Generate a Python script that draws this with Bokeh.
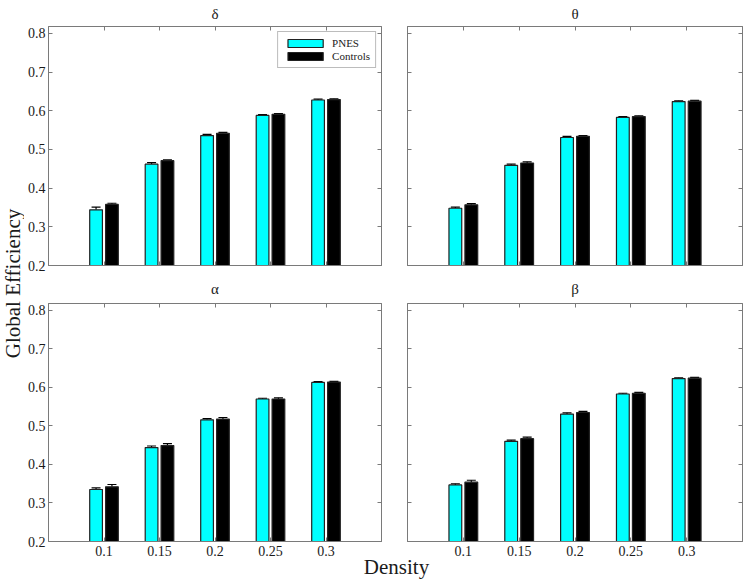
import numpy as np
from math import pi
from bokeh.plotting import figure
from bokeh.models import (Range1d, FixedTicker, LinearAxis, Label, Whisker,
                          ColumnDataSource, TeeHead, Legend, LegendItem)
from bokeh.layouts import row, column
from bokeh.embed import file_html
from bokeh.resources import INLINE

# ---------------- data ----------------
densities = ["0.1", "0.15", "0.2", "0.25", "0.3"]
groups = ["PNES", "Controls"]
bands = ["δ", "θ", "α", "β"]

pnes_delta = [0.344, 0.462, 0.536, 0.588, 0.628]
ctrl_delta = [0.358, 0.471, 0.542, 0.591, 0.629]
pnes_delta_err = [0.007, 0.004, 0.003, 0.002, 0.002]
ctrl_delta_err = [0.003, 0.002, 0.002, 0.002, 0.002]

pnes_theta = [0.348, 0.459, 0.531, 0.583, 0.624]
ctrl_theta = [0.357, 0.465, 0.534, 0.585, 0.625]
pnes_theta_err = [0.003, 0.003, 0.003, 0.002, 0.002]
ctrl_theta_err = [0.003, 0.003, 0.002, 0.002, 0.002]

pnes_alpha = [0.335, 0.444, 0.516, 0.570, 0.613]
ctrl_alpha = [0.342, 0.449, 0.518, 0.570, 0.614]
pnes_alpha_err = [0.004, 0.004, 0.003, 0.002, 0.002]
ctrl_alpha_err = [0.006, 0.005, 0.004, 0.003, 0.002]

pnes_beta = [0.347, 0.460, 0.531, 0.583, 0.623]
ctrl_beta = [0.354, 0.467, 0.535, 0.585, 0.624]
pnes_beta_err = [0.003, 0.003, 0.003, 0.002, 0.002]
ctrl_beta_err = [0.005, 0.004, 0.003, 0.002, 0.002]

y_ticks = [0.2, 0.3, 0.4, 0.5, 0.6, 0.7, 0.8]
Y_MIN, Y_MAX = 0.2, 0.818
X_MIN, X_MAX = 0, 6

# ---------------- style ----------------
FONT = "Liberation Serif"
GRAY = "#7a7a7a"
TXT = "#1a1a1a"
CYAN = "#00FFFF"
BAR_W = 0.229
OFF = 0.143


def add_axis(p, side, ticks, show_labels, standoff=2, overrides=None):
    ax = LinearAxis(ticker=FixedTicker(ticks=ticks))
    ax.major_tick_in = 4
    ax.major_tick_out = 0
    ax.minor_tick_line_color = None
    ax.axis_line_color = GRAY
    ax.major_tick_line_color = GRAY
    if show_labels:
        ax.major_label_text_font = FONT
        ax.major_label_text_font_size = "14px"
        ax.major_label_text_color = TXT
        ax.major_label_standoff = standoff
        if overrides:
            ax.major_label_overrides = overrides
    else:
        ax.major_label_text_color = None
        ax.major_label_text_font_size = "0px"
        ax.major_label_standoff = 0
    p.add_layout(ax, side)


def panel(title, pnes, ctrl, pnes_err, ctrl_err, show_x, show_y, legend,
          width, height, bl, br, bt, bb, title_standoff):
    p = figure(width=width, height=height,
               x_range=Range1d(X_MIN, X_MAX), y_range=Range1d(Y_MIN, Y_MAX),
               x_axis_location=None, y_axis_location=None,
               output_backend="svg", toolbar_location=None,
               min_border_left=bl, min_border_right=br,
               min_border_top=bt, min_border_bottom=bb)
    p.grid.visible = False
    p.outline_line_color = GRAY
    p.background_fill_color = "white"
    p.border_fill_color = "white"
    p.title.text = title
    p.title.align = "center"
    p.title.vertical_align = "top"
    p.title.text_font = FONT
    p.title.text_font_size = "15px"
    p.title.text_font_style = "normal"
    p.title.text_color = TXT
    p.title.standoff = title_standoff

    xs = np.arange(1, len(densities) + 1)
    src_p = ColumnDataSource(dict(x=xs - OFF, top=pnes,
                                  up=np.array(pnes) + np.array(pnes_err)))
    src_c = ColumnDataSource(dict(x=xs + OFF, top=ctrl,
                                  up=np.array(ctrl) + np.array(ctrl_err)))
    r1 = p.vbar(x="x", top="top", bottom=0, width=BAR_W, source=src_p,
                fill_color=CYAN, line_color="#222222", line_width=1.2)
    r2 = p.vbar(x="x", top="top", bottom=0, width=BAR_W, source=src_c,
                fill_color="black", line_color="#222222", line_width=1.2)
    for src in (src_p, src_c):
        w = Whisker(base="x", lower="top", upper="up", source=src,
                    dimension="height", lower_head=None,
                    upper_head=TeeHead(size=9, line_color="black", line_width=1.2),
                    line_color="black", line_width=1.2)
        p.add_layout(w)

    overrides = {int(i): lab for i, lab in zip(xs, densities)}
    add_axis(p, "below", list(xs), show_x, standoff=4, overrides=overrides)
    add_axis(p, "above", list(xs), False)
    add_axis(p, "left", y_ticks, show_y, standoff=3)
    add_axis(p, "right", y_ticks, False)

    if legend:
        lg = Legend(items=[LegendItem(label=groups[0], renderers=[r1]),
                           LegendItem(label=groups[1], renderers=[r2])],
                    location="top_right")
        lg.margin = 5
        lg.padding = 5
        lg.spacing = 1
        lg.glyph_width = 44
        lg.glyph_height = 10
        lg.label_height = 10
        lg.label_standoff = 5
        lg.label_text_font = FONT
        lg.label_text_font_size = "11px"
        lg.label_text_color = TXT
        lg.border_line_color = GRAY
        lg.border_line_width = 1
        lg.background_fill_alpha = 1
        p.add_layout(lg, "center")
    return p


tl = panel(bands[0], pnes_delta, ctrl_delta, pnes_delta_err, ctrl_delta_err,
           False, True, True, 370, 273, 24, 13, 26, 8, 6)
tr = panel(bands[1], pnes_theta, ctrl_theta, pnes_theta_err, ctrl_theta_err,
           False, False, False, 350, 273, 13, 2, 26, 8, 6)
bl = panel(bands[2], pnes_alpha, ctrl_alpha, pnes_alpha_err, ctrl_alpha_err,
           True, True, False, 370, 290, 24, 13, 30, 22, 10)
br = panel(bands[3], pnes_beta, ctrl_beta, pnes_beta_err, ctrl_beta_err,
           True, False, False, 350, 290, 13, 2, 30, 22, 10)

# shared y label
ylab = figure(width=24, height=581, x_range=Range1d(0, 24), y_range=Range1d(0, 581),
              x_axis_location=None, y_axis_location=None, min_border=0,
              title=None, output_backend="svg", toolbar_location=None)
ylab.grid.visible = False
ylab.outline_line_color = None
ylab.add_layout(Label(x=12, y=581 - 283, text="Global Efficiency", angle=pi / 2,
                      text_align="center", text_baseline="middle",
                      text_font=FONT, text_font_size="21px", text_color=TXT))

# shared x label (transparent strip, pulled up under the tick-label band)
xlab = figure(width=720, height=26, x_range=Range1d(0, 720), y_range=Range1d(0, 26),
              x_axis_location=None, y_axis_location=None, min_border=0,
              title=None, output_backend="svg", toolbar_location=None,
              margin=(-8, 0, 0, 0))
xlab.grid.visible = False
xlab.outline_line_color = None
xlab.background_fill_color = None
xlab.border_fill_color = None
xlab.add_layout(Label(x=372, y=2.5, text="Density", text_align="center",
                      text_baseline="bottom", text_font=FONT,
                      text_font_size="21px", text_color=TXT))

layout = row(ylab, column(row(tl, tr), row(bl, br), xlab))

open("out.html", "w").write(file_html(layout, INLINE))
